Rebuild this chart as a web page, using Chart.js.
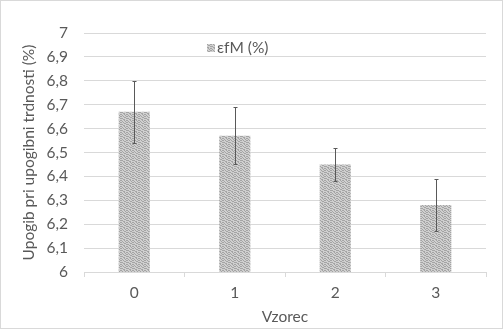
<!DOCTYPE html>
<html><head><meta charset="utf-8">
<script src="https://cdn.jsdelivr.net/npm/chart.js@4/dist/chart.umd.min.js"></script>
<style>
html,body{margin:0;padding:0;background:#fff;}
#wrap{position:relative;width:503px;height:329px;box-sizing:border-box;border:1px solid #d9d9d9;}
canvas{position:absolute;left:0;top:0;}
</style></head>
<body><div id="wrap"><canvas id="c" width="503" height="329"></canvas></div>
<script>
const categories = ['0','1','2','3'];
const values = [6.67, 6.57, 6.45, 6.28];
const errors = [0.13, 0.12, 0.07, 0.11];
const yTickLabels = ['6','6,1','6,2','6,3','6,4','6,5','6,6','6,7','6,8','6,9','7'];
const seriesLabel = 'εfM (%)';
const xTitle = 'Vzorec';
const yTitle = 'Upogib pri upogibni trdnosti (%)';

function makePattern(){
  const m = [
    [0,1,0,0,1,0],
    [1,0,1,0,0,1],
    [0,0,0,1,1,0],
    [1,1,0,0,0,1],
    [0,0,1,1,0,0],
    [1,0,0,1,0,1]
  ];
  const p = document.createElement('canvas');
  p.width = 6; p.height = 6;
  const g = p.getContext('2d');
  for (let r=0;r<6;r++) for (let c=0;c<6;c++){
    g.fillStyle = m[r][c] ? '#a4a4a4' : '#d0d0d0';
    g.fillRect(c,r,1,1);
  }
  return document.getElementById('c').getContext('2d').createPattern(p,'repeat');
}
const pattern = makePattern();
const FONT = 'Lato, "Open Sans", sans-serif';

const errorBars = {
  id:'errorBars',
  afterDatasetsDraw(chart){
    const ctx = chart.ctx, meta = chart.getDatasetMeta(0), y = chart.scales.y;
    ctx.save();
    ctx.strokeStyle = '#595959'; ctx.lineWidth = 1;
    meta.data.forEach((bar,i)=>{
      const x = Math.round(bar.x)+0.5;
      const t = Math.round(y.getPixelForValue(values[i]+errors[i]))+0.5;
      const b = Math.round(y.getPixelForValue(values[i]-errors[i]))+0.5;
      ctx.beginPath();
      ctx.moveTo(x,t); ctx.lineTo(x,b);
      ctx.moveTo(x-2,t); ctx.lineTo(x+2,t);
      ctx.moveTo(x-2,b); ctx.lineTo(x+2,b);
      ctx.stroke();
    });
    ctx.restore();
  }
};
const legendBox = {
  id:'legendBox',
  afterDraw(chart){
    const ctx = chart.ctx;
    ctx.save();
    ctx.fillStyle = pattern;
    ctx.fillRect(206,43,8,8);
    ctx.fillStyle = '#595959';
    ctx.font = '15.5px ' + FONT;
    ctx.textBaseline = 'middle';
    ctx.fillText(chart.data.datasets[0].label, 216, 47);
    ctx.restore();
  }
};

new Chart(document.getElementById('c'), {
  type:'bar',
  data:{labels:categories, datasets:[{label:seriesLabel, data:values, backgroundColor:pattern, borderWidth:0, barPercentage:0.31, categoryPercentage:1}]},
  options:{
    responsive:false, animation:false,
    layout:{padding:{left:19,right:18,top:32,bottom:4}},
    plugins:{legend:{display:false}, tooltip:{enabled:false}},
    scales:{
      x:{
        grid:{display:true, drawOnChartArea:false, drawTicks:true, tickLength:5, color:'#d9d9d9', offset:true},
        border:{display:true, color:'#d9d9d9'},
        ticks:{color:'#595959', font:{family:FONT, size:15.5}, padding:7},
        title:{display:true, text:xTitle, color:'#595959', font:{family:FONT, size:15.5}, padding:{top:2,bottom:0}},
        afterFit(s){ s.height = 54; }
      },
      y:{
        min:6, max:7,
        grid:{color:'#d9d9d9', drawTicks:false},
        border:{display:false},
        ticks:{stepSize:0.1, color:'#595959', font:{family:FONT, size:15.5}, padding:16,
          callback:(v,i)=>yTickLabels[i]},
        title:{display:true, text:yTitle, color:'#595959', font:{family:FONT, size:15.5}, padding:{top:0,bottom:0}},
        afterFit(s){ s.width = 64; }
      }
    }
  },
  plugins:[errorBars, legendBox]
});
</script></body></html>
